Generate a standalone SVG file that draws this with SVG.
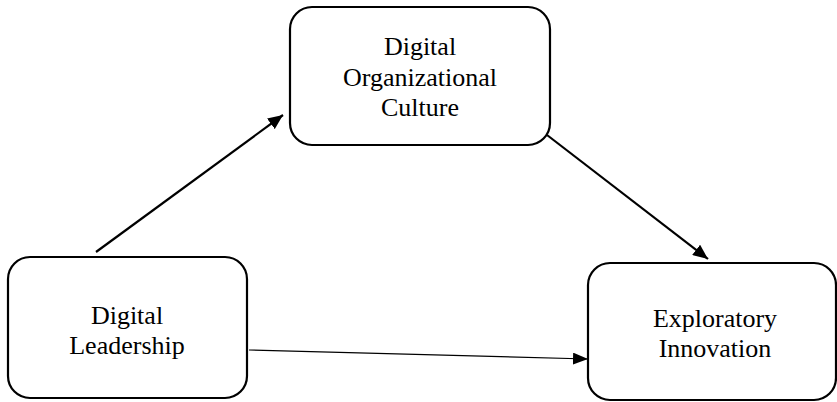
<svg xmlns="http://www.w3.org/2000/svg" width="837" height="402" viewBox="0 0 837 402">
  <style>
    .box { fill: #ffffff; stroke: #000000; stroke-width: 2.2; }
    .label { font-family: "Liberation Serif", "Times New Roman", serif; font-size: 26px; fill: #000000; text-anchor: middle; }
    .edge { stroke: #000000; fill: none; }
  </style>
  <defs>
    <marker id="arrow" viewBox="0 0 10 10" refX="10" refY="5" markerWidth="7" markerHeight="7" markerUnits="userSpaceOnUse" orient="auto">
      <path d="M0,0 L10,5 L0,10 Z" fill="#000000"/>
    </marker>
    <marker id="arrowThin" viewBox="0 0 10 10" refX="10" refY="5" markerWidth="15" markerHeight="12" markerUnits="userSpaceOnUse" orient="auto" preserveAspectRatio="none">
      <path d="M0,0 L10,5 L0,10 Z" fill="#000000"/>
    </marker>
    <marker id="arrowBold" viewBox="0 0 10 10" refX="10" refY="5" markerWidth="15" markerHeight="13" markerUnits="userSpaceOnUse" orient="auto" preserveAspectRatio="none">
      <path d="M0,0 L10,5 L0,10 Z" fill="#000000"/>
    </marker>
  </defs>

  <g id="connectors">
    <line class="edge" x1="96" y1="252" x2="283" y2="115" stroke-width="2.2" marker-end="url(#arrowBold)"/>
    <line class="edge" x1="547" y1="135" x2="708" y2="259" stroke-width="2.2" marker-end="url(#arrowBold)"/>
    <line class="edge" x1="249" y1="350" x2="588" y2="359" stroke-width="1.2" marker-end="url(#arrowThin)"/>
  </g>

  <g id="digital-organizational-culture">
    <rect class="box" x="290" y="7" width="260" height="138" rx="22" ry="22"/>
    <text class="label" x="420" y="55">Digital</text>
    <text class="label" x="420" y="86">Organizational</text>
    <text class="label" x="420" y="116">Culture</text>
  </g>

  <g id="digital-leadership">
    <rect class="box" x="8" y="257" width="239" height="141" rx="22" ry="22"/>
    <text class="label" x="127" y="324">Digital</text>
    <text class="label" x="127" y="354">Leadership</text>
  </g>

  <g id="exploratory-innovation">
    <rect class="box" x="588" y="263" width="248" height="137" rx="22" ry="22"/>
    <text class="label" x="715" y="327">Exploratory</text>
    <text class="label" x="715" y="357">Innovation</text>
  </g>
</svg>
